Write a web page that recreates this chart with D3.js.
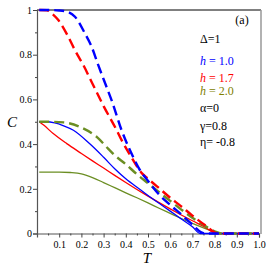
<!DOCTYPE html>
<html>
<head>
<meta charset="utf-8">
<script src="https://cdn.jsdelivr.net/npm/d3@7"></script>
<style>
  body { margin: 0; background: #fff; }
  svg text { font-family: "Liberation Serif", "DejaVu Serif", serif; }
</style>
</head>
<body>
<svg width="270" height="270"></svg>
<script>
// curve data: [T, C]
const blueDashed = [[0.01,1],[0.05,1],[0.1,0.998],[0.134,0.993],[0.171,0.97],[0.216,0.895],[0.246,0.836],[0.276,0.753],[0.3,0.69],[0.34,0.585],[0.381,0.462],[0.42,0.37],[0.464,0.283],[0.5,0.235],[0.554,0.17],[0.6,0.128],[0.65,0.085],[0.7,0.04],[0.74,0.005],[0.76,0],[1.0,0]];
const redDashed = [[0.01,1],[0.045,0.999],[0.066,0.985],[0.096,0.955],[0.141,0.88],[0.171,0.82],[0.209,0.753],[0.25,0.67],[0.3,0.57],[0.359,0.462],[0.38,0.42],[0.42,0.35],[0.472,0.27],[0.5,0.245],[0.539,0.212],[0.6,0.16],[0.644,0.126],[0.7,0.08],[0.76,0.035],[0.817,0],[1.0,0]];
const greenDashed = [[0.01,0.5],[0.05,0.5],[0.12,0.497],[0.194,0.477],[0.269,0.432],[0.32,0.38],[0.35,0.35],[0.4,0.31],[0.45,0.265],[0.5,0.225],[0.55,0.185],[0.6,0.146],[0.65,0.107],[0.7,0.07],[0.75,0.038],[0.8,0.01],[0.83,0],[1.0,0]];
const blueSolid = [[0.01,0.5],[0.04,0.5],[0.08,0.495],[0.12,0.482],[0.164,0.462],[0.239,0.4],[0.299,0.342],[0.35,0.29],[0.4,0.245],[0.464,0.197],[0.5,0.17],[0.55,0.135],[0.6,0.1],[0.65,0.065],[0.7,0.03],[0.735,0],[1.0,0]];
const redSolid = [[0.01,0.5],[0.03,0.485],[0.073,0.447],[0.134,0.402],[0.2,0.358],[0.25,0.325],[0.3,0.293],[0.35,0.26],[0.4,0.228],[0.45,0.197],[0.5,0.167],[0.55,0.138],[0.6,0.11],[0.65,0.083],[0.7,0.057],[0.75,0.032],[0.81,0],[1.0,0]];
const greenSolid = [[0.01,0.275],[0.1,0.275],[0.15,0.273],[0.2,0.267],[0.25,0.25],[0.3,0.228],[0.35,0.205],[0.4,0.182],[0.45,0.16],[0.5,0.137],[0.55,0.113],[0.6,0.09],[0.65,0.067],[0.7,0.045],[0.75,0.025],[0.8,0.007],[0.82,0],[1.0,0]];

const xTicks = [0.1,0.2,0.3,0.4,0.5,0.6,0.7,0.8,0.9,1.0];
const yTicks = [0,0.2,0.4,0.6,0.8,1];
const legendLines = [
  {txt: "Δ=1", color: "#000"},
  {txt: "h = 1.0", color: "#0000ff", italicH: true},
  {txt: "h = 1.7", color: "#ff0000", italicH: true},
  {txt: "h = 2.0", color: "#808000", italicH: true},
  {txt: "α=0", color: "#000"},
  {txt: "γ=0.8", color: "#000"},
  {txt: "η= -0.8", color: "#000"}
];

const serif = "'Liberation Serif', 'DejaVu Serif', serif";
const svg = d3.select("svg");
const x = d3.scaleLinear().domain([0, 1]).range([37, 259]);
const y = d3.scaleLinear().domain([0, 1]).range([233.5, 10]);

// frame
svg.append("line").attr("x1", 37).attr("x2", 261).attr("y1", 10).attr("y2", 10).attr("stroke", "#000").attr("stroke-width", 1);
svg.append("line").attr("x1", 261).attr("x2", 261).attr("y1", 10).attr("y2", 234).attr("stroke", "#999").attr("stroke-width", 1.5);

// axes
const xAxis = svg.append("g").attr("transform", `translate(0,${y(0)})`)
  .call(d3.axisBottom(x).tickValues(xTicks).tickSize(4).tickFormat(d3.format(".1f")));
svg.append("g").attr("transform", `translate(0,${y(0)})`)
  .call(d3.axisBottom(x).tickValues(d3.range(0.05, 1, 0.1)).tickSize(2).tickFormat(""))
  .select(".domain").remove();
const yAxis = svg.append("g").attr("transform", `translate(${x(0)},0)`)
  .call(d3.axisLeft(y).tickValues(yTicks).tickSize(4).tickFormat(d => d === 0 || d === 1 ? d : d3.format(".1f")(d)));
svg.append("g").attr("transform", `translate(${x(0)},0)`)
  .call(d3.axisLeft(y).tickValues([0.1,0.3,0.5,0.7,0.9]).tickSize(2).tickFormat(""))
  .select(".domain").remove();
svg.selectAll("g").attr("font-family", serif);
svg.selectAll(".domain").attr("stroke", "#555").attr("stroke-width", 1.2);
svg.selectAll(".tick line").attr("stroke", "#444");
svg.selectAll(".tick text").style("font-family", serif).attr("font-size", 10).attr("fill", "#000");
xAxis.selectAll(".tick text").attr("dy", "0.75em").attr("y", 7);
yAxis.selectAll(".tick text").attr("x", -5);

// curves
const line = d3.line().x(d => x(d[0])).y(d => y(d[1])).curve(d3.curveMonotoneX);
const series = [
  {data: greenSolid, color: "#6b8e23", dash: null, w: 1.3},
  {data: redSolid, color: "#ff0000", dash: null, w: 1.3},
  {data: blueSolid, color: "#0000ff", dash: null, w: 1.3},
  {data: greenDashed, color: "#6b8e23", dash: "10,5", w: 2.4},
  {data: redDashed, color: "#ff0000", dash: "10,5", w: 2.4},
  {data: blueDashed, color: "#0000ff", dash: "10,5", w: 2.4}
];
svg.selectAll("path.curve").data(series).enter().append("path")
  .attr("class", "curve")
  .attr("d", d => line(d.data))
  .attr("fill", "none")
  .attr("stroke", d => d.color)
  .attr("stroke-width", d => d.w)
  .attr("stroke-dasharray", d => d.dash);

// labels
svg.append("text").attr("x", 242).attr("y", 24).attr("text-anchor", "middle").attr("font-size", 12)
  .style("font-family", serif).text("(a)");
const leg = svg.selectAll("text.leg").data(legendLines).enter().append("text")
  .attr("class", "leg")
  .attr("x", 200)
  .attr("y", (d, i) => [43, 65, 82, 95, 112, 130, 146][i])
  .attr("font-size", 12)
  .style("font-family", serif)
  .attr("fill", d => d.color);
leg.each(function(d) {
  const t = d3.select(this);
  if (d.italicH) {
    t.append("tspan").attr("font-style", "italic").text("h");
    t.append("tspan").text(d.txt.slice(1));
  } else {
    t.text(d.txt);
  }
});

svg.append("text").attr("x", 12).attr("y", 127).attr("text-anchor", "middle").style("font-family", serif)
  .attr("font-size", 15).attr("font-style", "italic").text("C");
svg.append("text").attr("x", 147).attr("y", 263).attr("text-anchor", "middle").style("font-family", serif)
  .attr("font-size", 15).attr("font-style", "italic").text("T");
</script>
</body>
</html>
